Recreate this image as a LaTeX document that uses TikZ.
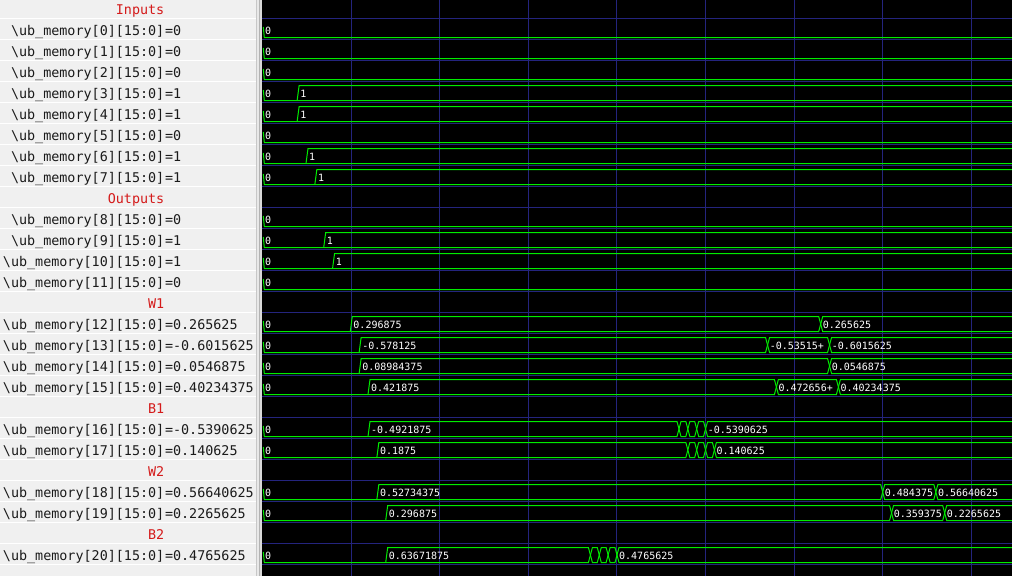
\documentclass[tikz,border=0pt]{standalone}
\usepackage{fontspec}
\setmonofont{DejaVu Sans Mono}
\definecolor{panelbg}{HTML}{F0F0F0}
\definecolor{hdrred}{HTML}{D41A1A}
\definecolor{wgreen}{HTML}{00EC00}
\definecolor{gridblue}{HTML}{24247E}
\definecolor{nametext}{HTML}{1A1A1A}
\newcommand\ubm[1]{\textbackslash ub\_memory[#1][15:0]}
\def\wT{4.5}
\def\wB{19.5}
\def\wL{16.3}
\newcommand\wxd[1]{--({tx(#1)-2},\wT)--({tx(#1)+2},\wB)}
\newcommand\wxu[1]{--({tx(#1)-2},\wB)--({tx(#1)+2},\wT)}
\newcommand\wtick{(263.3,9)--(264.3,\wB)}
\newcommand\wrise[1]{({tx(#1)-1},\wB)--({tx(#1)+1},\wT)}
\newcommand\sigrow[4]{%
  \node[nm] (n#2) at (164.5,{#1+17.5}) {\ubm{#3}};
  \node[vl] (v#2) at (164.8,{#1+17.5}) {=#4};}
\newcommand\zrow[2]{%
  \begin{scope}[shift={(0,#1)}]
    \draw[wave] \wtick --(1012,\wB);
    \node[wl] (z#2) at (265,\wL) {0};
  \end{scope}}
\newcommand\onerow[4]{%
  \begin{scope}[shift={(0,#1)}]
    \draw[wave] \wtick --(1012,\wB);
    \draw[wave] \wrise{#3} --(1012,\wT);
    \node[wl] (z#2) at (265,\wL) {0};
    \node[wl] (a#2) at ({tx(#3)+2},\wL) {#4};
  \end{scope}}
\begin{document}
\begin{tikzpicture}[x=1pt,y=-1pt,
  declare function={tx(\t)=262.7+8.857*\t;},
  nm/.style={anchor=base east,inner sep=0pt,text=nametext,font=\ttfamily\fontsize{13.4}{16}\selectfont},
  vl/.style={anchor=base west,inner sep=0pt,text=nametext,font=\ttfamily\fontsize{13.4}{16}\selectfont},
  hd/.style={anchor=base east,inner sep=0pt,text=hdrred,font=\ttfamily\fontsize{13.4}{16}\selectfont},
  wl/.style={anchor=base west,inner sep=0pt,text=white,font=\ttfamily\fontsize{10}{12}\selectfont},
  wave/.style={draw=wgreen,line width=1pt},
  gridl/.style={draw=gridblue,line width=1pt},
  sepl/.style={draw=white,line width=1pt}]
\useasboundingbox (0,0) rectangle (1012,576);
% panels
\fill[panelbg] (0,0) rectangle (256,576);
\fill[black] (262,0) rectangle (1012,576);
\fill[black!22] (256,0) rectangle (257,576);
\fill[black!9] (257,0) rectangle (259,576);
\fill[black!30] (259,0) rectangle (260,576);
\fill[black!15] (260,0) rectangle (262,576);
\foreach \k in {0,...,26} \draw[sepl] (0,{18.5+21*\k}) -- (256,{18.5+21*\k});
% grid
\foreach \k in {1,...,8} \draw[gridl] ({tx(10*\k)},0) -- ({tx(10*\k)},576);
\foreach \k in {0,...,26} \draw[gridl] (262,{18.5+21*\k}) -- (1012,{18.5+21*\k});
% headers
\node[hd] (h0) at (164.5,14.5) {Inputs};
\node[hd] (h1) at (164.5,203.5) {Outputs};
\node[hd] (h2) at (164.5,308.5) {W1};
\node[hd] (h3) at (164.5,413.5) {B1};
\node[hd] (h4) at (164.5,476.5) {W2};
\node[hd] (h5) at (164.5,539.5) {B2};
% names
\sigrow{18}{0}{0}{0}
\sigrow{39}{1}{1}{0}
\sigrow{60}{2}{2}{0}
\sigrow{81}{3}{3}{1}
\sigrow{102}{4}{4}{1}
\sigrow{123}{5}{5}{0}
\sigrow{144}{6}{6}{1}
\sigrow{165}{7}{7}{1}
\sigrow{207}{8}{8}{0}
\sigrow{228}{9}{9}{1}
\sigrow{249}{10}{10}{1}
\sigrow{270}{11}{11}{0}
\sigrow{312}{12}{12}{0.265625}
\sigrow{333}{13}{13}{-0.6015625}
\sigrow{354}{14}{14}{0.0546875}
\sigrow{375}{15}{15}{0.40234375}
\sigrow{417}{16}{16}{-0.5390625}
\sigrow{438}{17}{17}{0.140625}
\sigrow{480}{18}{18}{0.56640625}
\sigrow{501}{19}{19}{0.2265625}
\sigrow{543}{20}{20}{0.4765625}
% waves
\zrow{18}{0}
\zrow{39}{1}
\zrow{60}{2}
\onerow{81}{3}{4}{1}
\onerow{102}{4}{4}{1}
\zrow{123}{5}
\onerow{144}{6}{5}{1}
\onerow{165}{7}{6}{1}
\zrow{207}{8}
\onerow{228}{9}{7}{1}
\onerow{249}{10}{8}{1}
\zrow{270}{11}
\begin{scope}[shift={(0,312)}]
  \draw[wave] \wtick \wxu{63} --(1012,\wT);
  \draw[wave] \wrise{10} \wxd{63} --(1012,\wB);
  \node[wl] (z12) at (265,\wL) {0};
  \node[wl] (a12) at ({tx(10)+2},\wL) {0.296875};
  \node[wl] (b12) at ({tx(63)+2},\wL) {0.265625};
\end{scope}
\begin{scope}[shift={(0,333)}]
  \draw[wave] \wtick \wxu{57} \wxd{64} --(1012,\wB);
  \draw[wave] \wrise{11} \wxd{57} \wxu{64} --(1012,\wT);
  \node[wl] (z13) at (265,\wL) {0};
  \node[wl] (a13) at ({tx(11)+2},\wL) {-0.578125};
  \node[wl] (b13) at ({tx(57)+2},\wL) {-0.53515+};
  \node[wl] (c13) at ({tx(64)+2},\wL) {-0.6015625};
\end{scope}
\begin{scope}[shift={(0,354)}]
  \draw[wave] \wtick \wxu{64} --(1012,\wT);
  \draw[wave] \wrise{11} \wxd{64} --(1012,\wB);
  \node[wl] (z14) at (265,\wL) {0};
  \node[wl] (a14) at ({tx(11)+2},\wL) {0.08984375};
  \node[wl] (b14) at ({tx(64)+2},\wL) {0.0546875};
\end{scope}
\begin{scope}[shift={(0,375)}]
  \draw[wave] \wtick \wxu{58} \wxd{65} --(1012,\wB);
  \draw[wave] \wrise{12} \wxd{58} \wxu{65} --(1012,\wT);
  \node[wl] (z15) at (265,\wL) {0};
  \node[wl] (a15) at ({tx(12)+2},\wL) {0.421875};
  \node[wl] (b15) at ({tx(58)+2},\wL) {0.472656+};
  \node[wl] (c15) at ({tx(65)+2},\wL) {0.40234375};
\end{scope}
\begin{scope}[shift={(0,417)}]
  \draw[wave] \wtick \wxu{47} \wxd{48} \wxu{49} \wxd{50} --(1012,\wB);
  \draw[wave] \wrise{12} \wxd{47} \wxu{48} \wxd{49} \wxu{50} --(1012,\wT);
  \node[wl] (z16) at (265,\wL) {0};
  \node[wl] (a16) at ({tx(12)+2},\wL) {-0.4921875};
  \node[wl] (b16) at ({tx(50)+2},\wL) {-0.5390625};
\end{scope}
\begin{scope}[shift={(0,438)}]
  \draw[wave] \wtick \wxu{48} \wxd{49} \wxu{50} \wxd{51} --(1012,\wB);
  \draw[wave] \wrise{13} \wxd{48} \wxu{49} \wxd{50} \wxu{51} --(1012,\wT);
  \node[wl] (z17) at (265,\wL) {0};
  \node[wl] (a17) at ({tx(13)+2},\wL) {0.1875};
  \node[wl] (b17) at ({tx(51)+2},\wL) {0.140625};
\end{scope}
\begin{scope}[shift={(0,480)}]
  \draw[wave] \wtick \wxu{70} \wxd{76} --(1012,\wB);
  \draw[wave] \wrise{13} \wxd{70} \wxu{76} --(1012,\wT);
  \node[wl] (z18) at (265,\wL) {0};
  \node[wl] (a18) at ({tx(13)+2},\wL) {0.52734375};
  \node[wl] (b18) at ({tx(70)+2},\wL) {0.484375};
  \node[wl] (c18) at ({tx(76)+2},\wL) {0.56640625};
\end{scope}
\begin{scope}[shift={(0,501)}]
  \draw[wave] \wtick \wxu{71} \wxd{77} --(1012,\wB);
  \draw[wave] \wrise{14} \wxd{71} \wxu{77} --(1012,\wT);
  \node[wl] (z19) at (265,\wL) {0};
  \node[wl] (a19) at ({tx(14)+2},\wL) {0.296875};
  \node[wl] (b19) at ({tx(71)+2},\wL) {0.359375};
  \node[wl] (c19) at ({tx(77)+2},\wL) {0.2265625};
\end{scope}
\begin{scope}[shift={(0,543)}]
  \draw[wave] \wtick \wxu{37} \wxd{38} \wxu{39} \wxd{40} --(1012,\wB);
  \draw[wave] \wrise{14} \wxd{37} \wxu{38} \wxd{39} \wxu{40} --(1012,\wT);
  \node[wl] (z20) at (265,\wL) {0};
  \node[wl] (a20) at ({tx(14)+2},\wL) {0.63671875};
  \node[wl] (b20) at ({tx(40)+2},\wL) {0.4765625};
\end{scope}
\end{tikzpicture}
\end{document}
